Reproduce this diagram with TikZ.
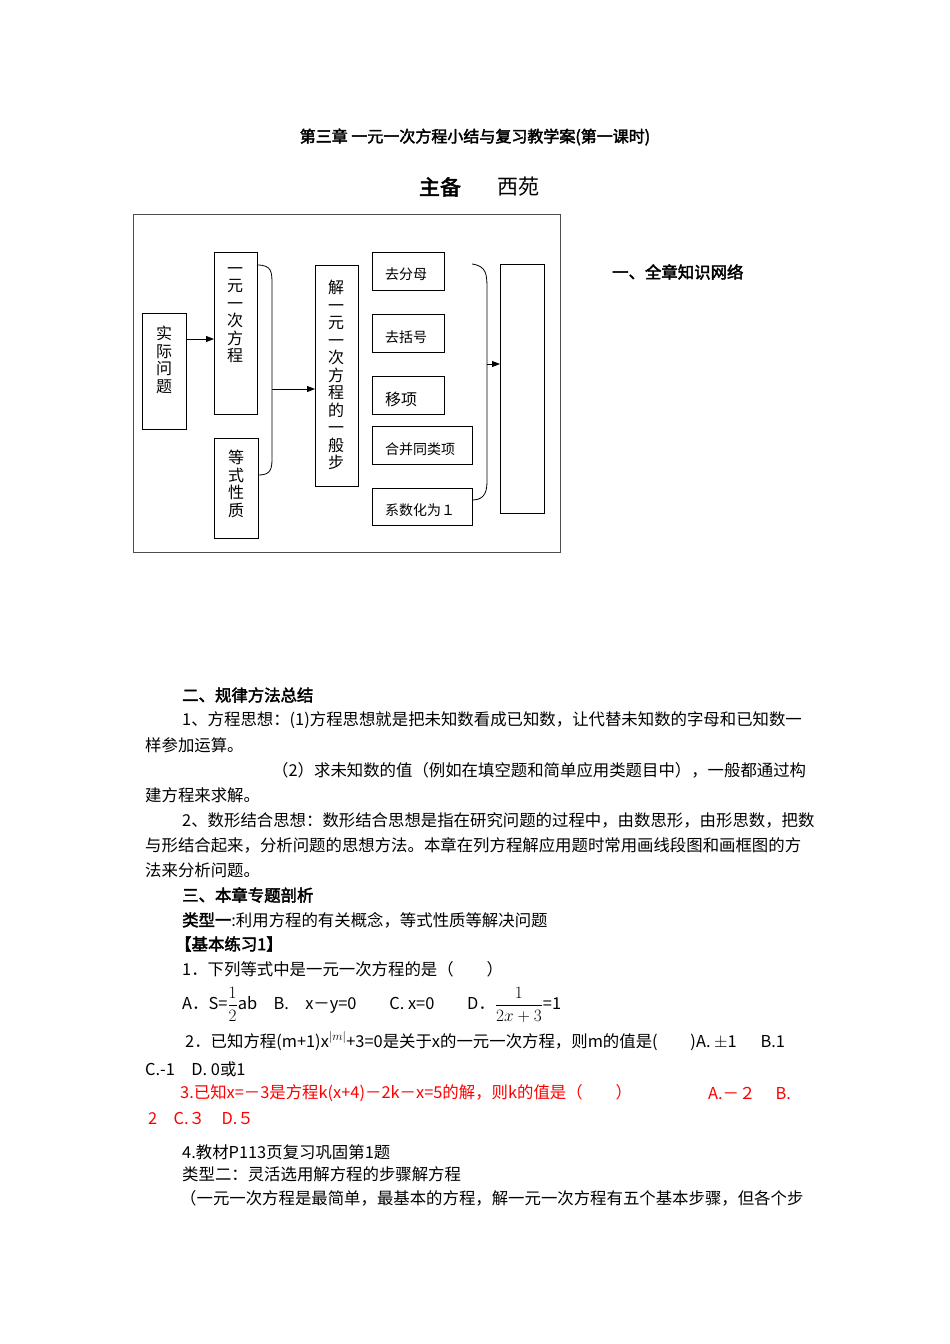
\documentclass[tikz,border=0pt]{standalone}
\usepackage{fontspec}
\setmainfont{Noto Sans CJK SC}
\newfontfamily\bfc[FakeBold=2.5]{Noto Sans CJK SC}
\usetikzlibrary{arrows.meta}
\begin{document}
\begin{tikzpicture}[x=1pt,y=-1pt,
  bx/.style={draw,line width=0.8pt},
  vt/.style={align=center,font=\fontsize{16}{17.5}\selectfont,inner sep=0pt},
  st/.style={anchor=west,font=\fontsize{14}{15}\selectfont,inner sep=0pt},
  ln/.style={anchor=west,inner sep=0pt,font=\fontsize{16.4}{18}\selectfont},
  bl/.style={ln,font=\fontsize{16.4}{18}\bfc},
  ar/.style={-{Triangle[length=8pt,width=6pt]},line width=0.8pt}]
\useasboundingbox (0,0) rectangle (950,1344);
\node[font=\fontsize{16}{18}\bfc] (t1) at (475,137) {第三章 一元一次方程小结与复习教学案(第一课时)};
\node[font=\fontsize{21}{22}\bfc] (t2) at (440,187) {主备};
\node[font=\fontsize{21}{22}\selectfont] (t3) at (518,187) {西苑};
\node[bl] (h1) at (612,272) {一、全章知识网络};
\draw[line width=0.8pt,black!70] (133,214) rectangle (560,552);
\draw[bx] (142,313) rectangle (186,429); \node[vt] (a) at (164,360) {实\\际\\问\\题};
\draw[bx] (214,252) rectangle (257,414); \node[vt] (b) at (235,315) {一\\元\\一\\次\\方\\程};
\draw[bx] (214,438) rectangle (258,538); \node[vt] (c) at (236,484) {等\\式\\性\\质};
\draw[bx] (315,265) rectangle (358,486); \node[vt] (d) at (336,375) {解\\一\\元\\一\\次\\方\\程\\的\\一\\般\\步};
\draw[bx] (372,252) rectangle (444,290); \node[st] (s1) at (385,274) {去分母};
\draw[bx] (372,314) rectangle (444,352); \node[st] (s2) at (385,337) {去括号};
\draw[bx] (372,376) rectangle (444,414); \node[st,font=\fontsize{16}{17}\selectfont] (s3) at (385,399) {移项};
\draw[bx] (372,426) rectangle (472,464); \node[st] (s4) at (385,449) {合并同类项};
\draw[bx] (372,488) rectangle (472,525); \node[st] (s5) at (385,510) {系数化为１};
\draw[bx] (500,264) rectangle (544,513);
\coordinate (p1) at (186,339); \coordinate (q1) at (214,339);
\draw[ar] (p1) -- (q1);
\draw[line width=0.8pt] (257,265) .. controls (272,265) and (272,272) .. (272,285) -- (272,460) .. controls (272,472) and (268,475) .. (258,475);
\coordinate (p2) at (272,389); \coordinate (q2) at (315,389);
\draw[ar] (p2) -- (q2);
\draw[line width=0.8pt] (472,264) .. controls (487,266) and (487,275) .. (487,290) -- (487,482) .. controls (487,495) and (482,500) .. (472,500);
\coordinate (p3) at (487,364); \coordinate (q3) at (500,364);
\draw[ar] (p3) -- (q3);
\node[bl] (l1) at (182,695) {二、规律方法总结};
\node[ln] (l2) at (182,720) {1、方程思想：(1)方程思想就是把未知数看成已知数，让代替未知数的字母和已知数一};
\node[ln] (l3) at (145,745) {样参加运算。};
\node[ln] (l4) at (272,770) {（2）求未知数的值（例如在填空题和简单应用类题目中），一般都通过构};
\node[ln] (l5) at (145,795) {建方程来求解。};
\node[ln] (l6) at (182,820) {2、数形结合思想：数形结合思想是指在研究问题的过程中，由数思形，由形思数，把数};
\node[ln] (l7) at (145,845) {与形结合起来，分析问题的思想方法。本章在列方程解应用题时常用画线段图和画框图的方};
\node[ln] (l8) at (145,870) {法来分析问题。};
\node[bl] (l9) at (182,895) {三、本章专题剖析};
\node[ln] (l10) at (182,920) {{\bfc 类型一}:利用方程的有关概念，等式性质等解决问题};
\node[bl] (l11) at (175,944) {【基本练习1】};
\node[ln] (l12) at (182,969) {1．下列等式中是一元一次方程的是（\qquad）};
\node[ln] (l13) at (182,1005) {A．S=$\displaystyle\frac{1}{2}$ab\quad B.\quad x－y=0\qquad C. x=0\qquad D．$\displaystyle\frac{1}{2x+3}$=1};
\node[ln] (l14) at (185,1041) {2．已知方程(m+1)x$^{|m|}$+3=0是关于x的一元一次方程，则m的值是(\qquad)A. $\pm$1\quad\ \ B.1};
\node[ln] (l15) at (145,1069) {C.-1\quad D. 0或1};
\node[ln,text=red] (l16) at (180,1093) {3.已知x=－3是方程k(x+4)－2k－x=5的解，则k的值是（\qquad）};
\node[ln,text=red] (l16b) at (708,1093) {A.－２\quad\ B.};
\node[ln,text=red] (l17) at (148,1118) {2\quad C.３\quad D.５};
\node[ln] (l18) at (182,1152) {4.教材P113页复习巩固第1题};
\node[ln] (l19) at (182,1174) {类型二：灵活选用解方程的步骤解方程};
\node[ln] (l20) at (180,1198) {（一元一次方程是最简单，最基本的方程，解一元一次方程有五个基本步骤，但各个步};
\end{tikzpicture}
\end{document}
